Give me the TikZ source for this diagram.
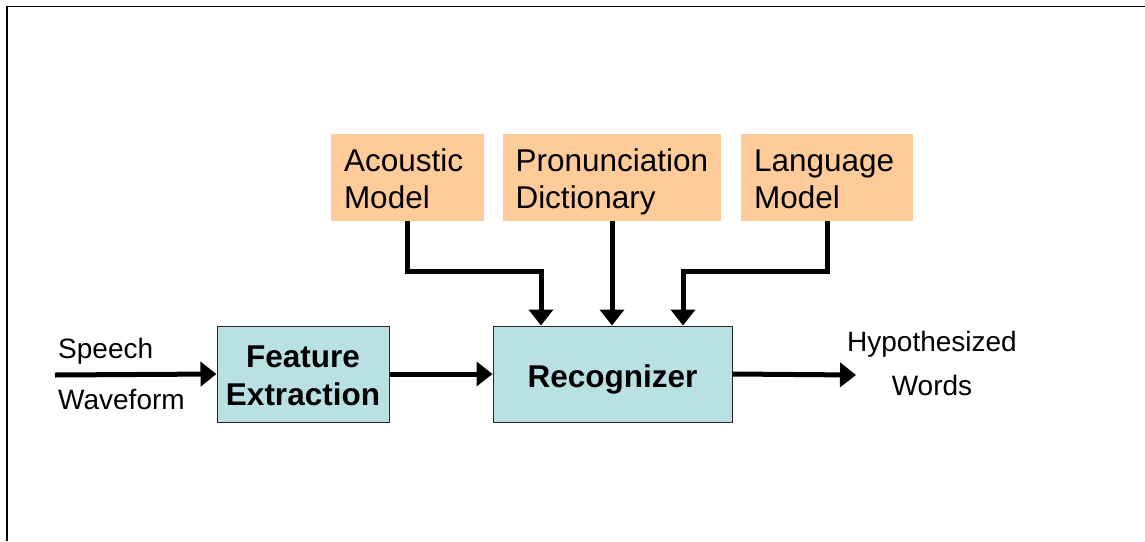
\documentclass[tikz,border=0pt]{standalone}
\usepackage{fontspec}
\setmainfont{Liberation Sans}
\usetikzlibrary{arrows.meta}
\definecolor{peach}{HTML}{FFCC99}
\definecolor{cyanbox}{HTML}{B9E0E3}
\tikzset{
  model/.style={fill=peach, draw=none, inner ysep=0pt, inner xsep=13pt, align=left,
    minimum height=87pt, text height=22.5pt, text depth=34.5pt,
    font=\fontsize{31.5}{37}\selectfont},
  proc/.style={fill=cyanbox, draw=black!85, line width=1pt, inner sep=0pt, align=center,
    minimum height=96pt, font=\fontsize{31.5}{38}\selectfont\bfseries},
  lbl/.style={inner sep=0pt, font=\fontsize{28}{34}\selectfont},
  arr/.style={line width=5pt, -{Triangle[length=16pt,width=24pt]}},
  wire/.style={line width=5pt}
}
\begin{document}
\begin{tikzpicture}[x=1pt,y=-1pt]
\useasboundingbox (0,0) rectangle (1145,541);
\draw[line width=1.6pt] (7,541) -- (7,6.5) -- (1145,6.5);

\node[model, text width=127pt] (ac) at (407.5,177.5) {Acoustic\\Model};
\node[model, text width=193pt, inner xsep=12.5pt] (pd) at (612,177.5) {Pronunciation\\Dictionary};
\node[model, text width=146pt] (lm) at (827,177.5) {Language\\Model};

\node[proc, minimum width=172pt, text height=62pt, text depth=0pt] (fe) at (303,374) {Feature\\Extraction};
\node[proc, minimum width=239pt, text height=26pt, text depth=0pt] (rec) at (612.5,374) {Recognizer};

\coordinate (in) at (55,375);
\coordinate (out) at (856,375);

\node[lbl, anchor=base west] (sp) at (58,358) {Speech};
\node[lbl, anchor=base west] (wf) at (58,409) {Waveform};
\node[lbl, anchor=base] (hy) at (932,351) {Hypothesized};
\node[lbl, anchor=base] (wd) at (932,395) {Words};

\draw[arr] (in) -- (fe.west);
\draw[arr] (fe.east) -- (rec.west);
\draw[arr] (rec.east) -- (out);

\draw[arr] (ac.south) -- (ac.south |- 0,271) -| ([xshift=-71.5pt]rec.north);
\draw[arr] (pd.south) -- (pd.south |- rec.north);
\draw[arr] (lm.south) -- (lm.south |- 0,271) -| ([xshift=70.5pt]rec.north);
\end{tikzpicture}
\end{document}
